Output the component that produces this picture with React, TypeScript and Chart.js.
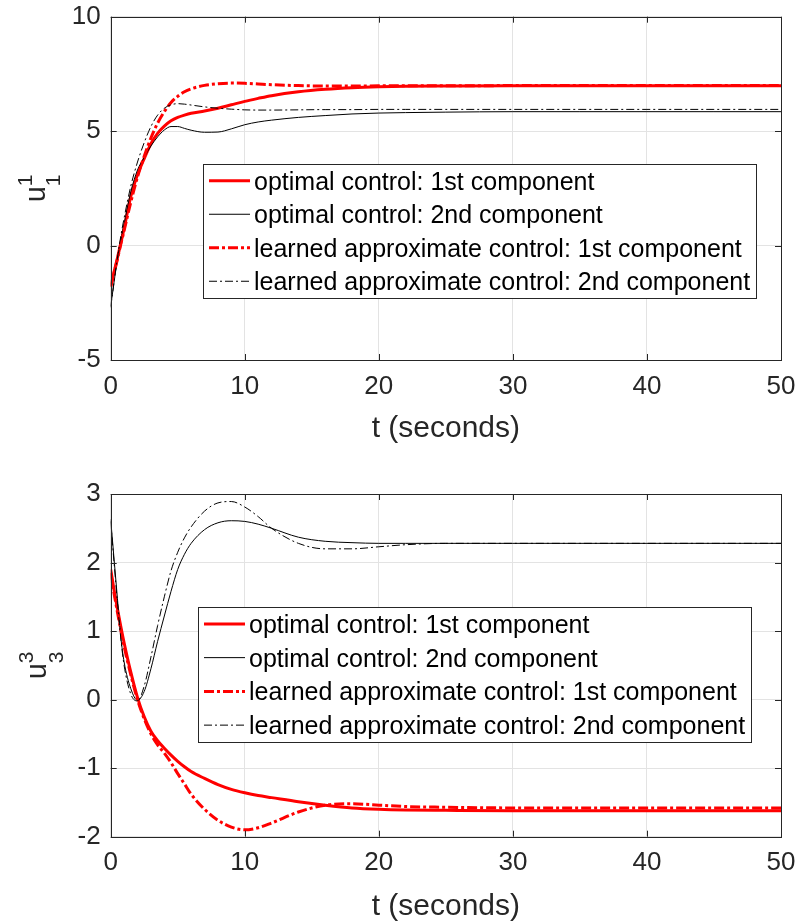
import React, { useEffect, useRef } from "react";
import { Chart, registerables } from "chart.js";

Chart.register(...registerables);

// ---------------- data ----------------
const T = [0, 0.25, 0.5, 0.75, 1, 1.5, 2, 2.5, 3, 3.5, 4, 4.5, 5, 5.5, 6, 7, 8, 9, 10, 11, 12, 14, 16, 18, 20, 22, 25, 30, 35, 40, 45, 50];

const xTicks = [0, 10, 20, 30, 40, 50];
const xTitle = "t (seconds)";
const legendLabels = [
  "optimal control: 1st component",
  "optimal control: 2nd component",
  "learned approximate control: 1st component",
  "learned approximate control: 2nd component",
];

// top panel: u_1^1
const yTicksTop = [-5, 0, 5, 10];
const topOpt1 = [-1.8, -1.15, -0.55, 0.1, 0.75, 2.15, 3.1, 3.8, 4.45, 4.9, 5.22, 5.45, 5.6, 5.7, 5.78, 5.88, 6.0, 6.15, 6.3, 6.43, 6.55, 6.72, 6.83, 6.9, 6.94, 6.96, 6.97, 6.98, 6.98, 6.98, 6.98, 6.98];
const topOpt2 = [-2.65, -1.6, -0.6, 0.25, 0.95, 2.35, 3.3, 3.85, 4.35, 4.75, 5.05, 5.2, 5.2, 5.12, 5.04, 4.95, 4.96, 5.1, 5.28, 5.4, 5.48, 5.6, 5.68, 5.75, 5.79, 5.81, 5.83, 5.85, 5.85, 5.85, 5.85, 5.85];
const topLearn1 = [-1.8, -1.2, -0.6, 0.05, 0.65, 1.9, 3.0, 3.9, 4.7, 5.35, 5.85, 6.25, 6.52, 6.72, 6.85, 7.0, 7.07, 7.1, 7.09, 7.06, 7.03, 6.99, 6.97, 6.97, 6.98, 6.98, 6.98, 6.99, 6.99, 6.99, 6.99, 6.99];
const topLearn2 = [-2.7, -1.6, -0.55, 0.4, 1.2, 2.6, 3.65, 4.5, 5.2, 5.7, 6.0, 6.15, 6.2, 6.18, 6.14, 6.06, 6.0, 5.96, 5.93, 5.92, 5.92, 5.93, 5.94, 5.94, 5.95, 5.95, 5.95, 5.95, 5.95, 5.95, 5.95, 5.95];

// bottom panel: u_3^3
const yTicksBottom = [-2, -1, 0, 1, 2, 3];
const botOpt1 = [1.9, 1.6, 1.33, 1.07, 0.83, 0.4, 0.03, -0.25, -0.46, -0.6, -0.71, -0.81, -0.9, -0.98, -1.05, -1.15, -1.24, -1.31, -1.36, -1.4, -1.43, -1.49, -1.54, -1.58, -1.6, -1.61, -1.615, -1.62, -1.62, -1.62, -1.62, -1.62];
const botOpt2 = [2.63, 2.05, 1.48, 0.92, 0.55, 0.16, -0.01, 0.12, 0.45, 0.85, 1.22, 1.58, 1.9, 2.12, 2.28, 2.48, 2.58, 2.61, 2.6, 2.56, 2.5, 2.37, 2.31, 2.29, 2.28, 2.28, 2.28, 2.28, 2.28, 2.28, 2.28, 2.28];
const botLearn1 = [1.85, 1.55, 1.28, 1.02, 0.78, 0.36, 0.0, -0.28, -0.5, -0.66, -0.78, -0.92, -1.08, -1.23, -1.38, -1.6, -1.76, -1.86, -1.9, -1.87, -1.8, -1.64, -1.54, -1.52, -1.54, -1.56, -1.57, -1.58, -1.58, -1.58, -1.58, -1.58];
const botLearn2 = [2.6, 2.0, 1.42, 0.9, 0.5, 0.08, -0.02, 0.2, 0.62, 1.08, 1.5, 1.88, 2.15, 2.36, 2.52, 2.75, 2.87, 2.89, 2.81, 2.67, 2.5, 2.28, 2.2, 2.2, 2.23, 2.26, 2.28, 2.28, 2.28, 2.28, 2.28, 2.28];

// ---------------- styling ----------------
const FONT = "'Liberation Sans', Arial, Helvetica, sans-serif";
const AXIS_COLOR = "#262626";
const GRID_COLOR = "#e3e3e3";

const seriesStyles = [
  { color: "#ff0000", width: 3, dash: [] as number[] },
  { color: "#000000", width: 1, dash: [] as number[] },
  { color: "#ff0000", width: 3, dash: [10, 3, 3, 3] },
  { color: "#000000", width: 1, dash: [8, 3, 2, 3] },
];

const decorPlugin = {
  id: "decor",
  afterDraw(chart: any, _args: any, opts: any) {
    const { ctx, chartArea: a, scales } = chart;
    ctx.save();
    // inward ticks
    ctx.strokeStyle = AXIS_COLOR;
    ctx.lineWidth = 1;
    ctx.setLineDash([]);
    const L = 6;
    ctx.beginPath();
    scales.x.ticks.forEach((t: any) => {
      const px = Math.round(scales.x.getPixelForValue(t.value)) + 0.5;
      ctx.moveTo(px, a.bottom);
      ctx.lineTo(px, a.bottom - L);
      ctx.moveTo(px, a.top);
      ctx.lineTo(px, a.top + L);
    });
    scales.y.ticks.forEach((t: any) => {
      const py = Math.round(scales.y.getPixelForValue(t.value)) + 0.5;
      ctx.moveTo(a.left, py);
      ctx.lineTo(a.left + L, py);
      ctx.moveTo(a.right, py);
      ctx.lineTo(a.right - L, py);
    });
    ctx.stroke();
    // box
    const l = Math.round(a.left) + 0.5;
    const tp = Math.round(a.top) + 0.5;
    const r = Math.round(a.right) + 0.5;
    const b = Math.round(a.bottom) + 0.5;
    ctx.strokeRect(l, tp, r - l, b - tp);

    // legend
    const lg = opts.legend;
    ctx.fillStyle = "#ffffff";
    ctx.fillRect(lg.x, lg.y, lg.w, lg.h);
    ctx.strokeStyle = AXIS_COLOR;
    ctx.lineWidth = 1;
    ctx.strokeRect(lg.x + 0.5, lg.y + 0.5, lg.w, lg.h);
    const n = chart.data.datasets.length;
    const rowH = lg.h / n;
    chart.data.datasets.forEach((ds: any, i: number) => {
      const cy = lg.y + rowH * (i + 0.5);
      ctx.beginPath();
      ctx.setLineDash(ds.borderDash || []);
      ctx.strokeStyle = ds.borderColor;
      ctx.lineWidth = ds.borderWidth;
      ctx.moveTo(lg.x + 6, cy);
      ctx.lineTo(lg.x + 47, cy);
      ctx.stroke();
      ctx.setLineDash([]);
      ctx.fillStyle = "#000000";
      ctx.font = `25px ${FONT}`;
      ctx.textBaseline = "middle";
      ctx.textAlign = "left";
      ctx.fillText(ds.label, lg.x + 51, cy + 2);
    });

    // y label with sub/superscript, rotated
    const yl = opts.yLabel;
    const cyMid = (a.top + a.bottom) / 2;
    ctx.translate(yl.bx, cyMid);
    ctx.rotate(-Math.PI / 2);
    ctx.fillStyle = AXIS_COLOR;
    ctx.textBaseline = "alphabetic";
    ctx.textAlign = "left";
    ctx.font = `29px ${FONT}`;
    const uW = ctx.measureText(yl.base).width;
    ctx.font = `21px ${FONT}`;
    const sW = Math.max(ctx.measureText(yl.sup).width, ctx.measureText(yl.sub).width);
    const x0 = -(uW + sW) / 2;
    ctx.font = `29px ${FONT}`;
    ctx.fillText(yl.base, x0, 0);
    ctx.font = `21px ${FONT}`;
    ctx.fillText(yl.sup, x0 + uW, yl.supShift);
    ctx.fillText(yl.sub, x0 + uW, yl.subShift);
    ctx.restore();
  },
};

type PanelProps = {
  values: number[][];
  yTicks: number[];
  top: number;
  height: number;
  padTop: number;
  xAxisHeight: number;
  titlePadBottom: number;
  legend: { x: number; y: number; w: number; h: number };
  yLabel: { base: string; sup: string; sub: string; bx: number; supShift: number; subShift: number };
};

function Panel(props: PanelProps) {
  const ref = useRef<HTMLCanvasElement | null>(null);
  useEffect(() => {
    if (!ref.current) return;
    const datasets = props.values.map((vals, i) => ({
      label: legendLabels[i],
      data: T.map((t, k) => ({ x: t, y: vals[k] })),
      borderColor: seriesStyles[i].color,
      backgroundColor: seriesStyles[i].color,
      borderWidth: seriesStyles[i].width,
      borderDash: seriesStyles[i].dash,
      pointRadius: 0,
      fill: false,
      tension: 0.4,
      cubicInterpolationMode: "monotone" as const,
      order: props.values.length - i,
    }));
    const yT = props.yTicks;
    const chart = new Chart(ref.current, {
      type: "line",
      data: { datasets },
      options: {
        responsive: false,
        animation: false,
        layout: { autoPadding: false, padding: { left: 0, right: 19, top: props.padTop, bottom: 0 } },
        plugins: {
          legend: { display: false },
          tooltip: { enabled: false },
          decor: { legend: props.legend, yLabel: props.yLabel },
        } as any,
        scales: {
          x: {
            type: "linear",
            min: xTicks[0],
            max: xTicks[xTicks.length - 1],
            afterBuildTicks: (s: any) => {
              s.ticks = xTicks.map((v) => ({ value: v }));
            },
            afterFit: (s: any) => {
              s.height = props.xAxisHeight;
              s.paddingLeft = 0;
              s.paddingRight = 0;
            },
            grid: { color: GRID_COLOR, drawTicks: false, lineWidth: 1 },
            border: { display: false },
            ticks: {
              color: AXIS_COLOR,
              font: { family: FONT, size: 26 },
              padding: 11,
              maxRotation: 0,
              autoSkip: false,
            },
            title: {
              display: true,
              text: xTitle,
              color: AXIS_COLOR,
              font: { family: FONT, size: 30 },
              padding: { top: 0, bottom: props.titlePadBottom },
            },
          },
          y: {
            type: "linear",
            min: yT[0],
            max: yT[yT.length - 1],
            afterBuildTicks: (s: any) => {
              s.ticks = yT.map((v) => ({ value: v }));
            },
            afterFit: (s: any) => {
              s.width = 110.7;
              s.paddingTop = 0;
              s.paddingBottom = 0;
            },
            grid: { color: GRID_COLOR, drawTicks: false, lineWidth: 1 },
            border: { display: false },
            ticks: {
              color: AXIS_COLOR,
              font: { family: FONT, size: 26 },
              padding: 10,
              autoSkip: false,
            },
          },
        },
      },
      plugins: [decorPlugin],
    });
    return () => chart.destroy();
  }, []);
  return (
    <canvas
      ref={ref}
      width={800}
      height={props.height}
      style={{ position: "absolute", left: 0, top: props.top, width: 800, height: props.height }}
    />
  );
}

export default function App() {
  return (
    <div style={{ position: "absolute", left: 0, top: 0, width: 800, height: 922, background: "#ffffff", overflow: "hidden" }}>
      <Panel
        values={[topOpt1, topOpt2, topLearn1, topLearn2]}
        yTicks={yTicksTop}
        top={0}
        height={461}
        padTop={16.7}
        xAxisHeight={101}
        titlePadBottom={14}
        legend={{ x: 203, y: 164, w: 553, h: 134 }}
        yLabel={{ base: "u", sup: "1", sub: "1", bx: 45, supShift: -13, subShift: 15 }}
      />
      <Panel
        values={[botOpt1, botOpt2, botLearn1, botLearn2]}
        yTicks={yTicksBottom}
        top={461}
        height={461}
        padTop={33}
        xAxisHeight={85.3}
        titlePadBottom={-3}
        legend={{ x: 198, y: 146, w: 553, h: 135 }}
        yLabel={{ base: "u", sup: "3", sub: "3", bx: 46, supShift: -13.5, subShift: 17 }}
      />
    </div>
  );
}
